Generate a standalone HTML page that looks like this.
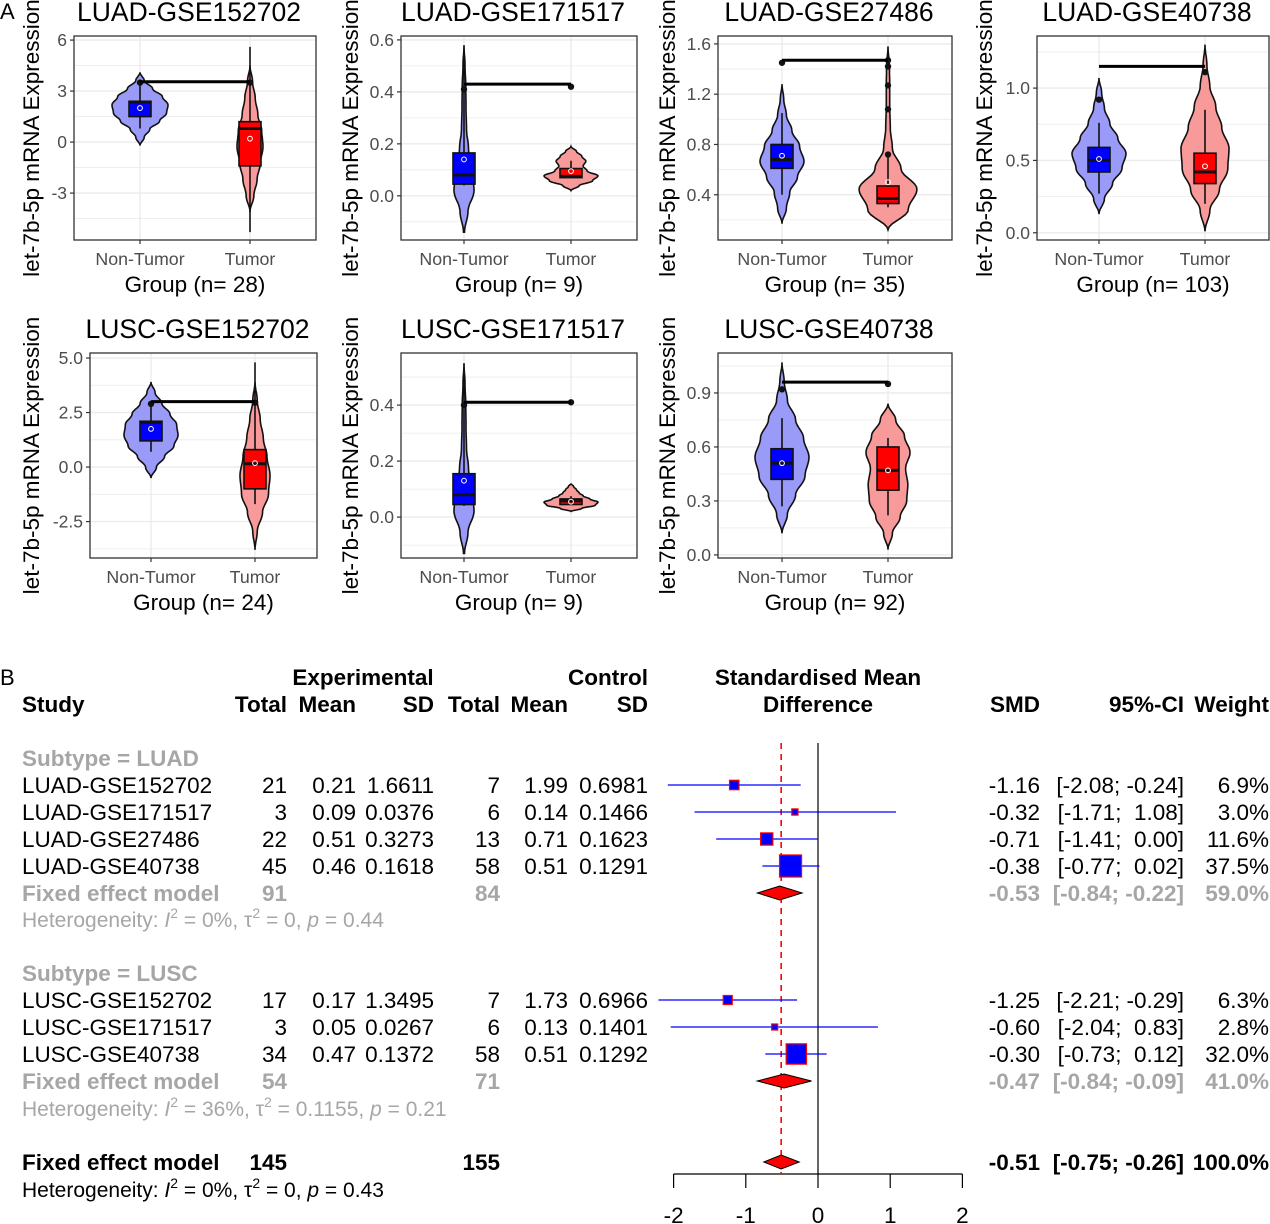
<!DOCTYPE html>
<html><head><meta charset="utf-8"><style>
html,body{margin:0;padding:0;background:#fff;}
svg{display:block;font-family:"Liberation Sans",Arial,sans-serif;}
</style></head><body>
<svg id="root" width="1270" height="1224" viewBox="0 0 1270 1224" xmlns="http://www.w3.org/2000/svg">
<g id="panelA"></g>
<g id="panelB"></g>
</svg>
<script>
// ---------- Panel A data ----------
const panelTitles = ["LUAD-GSE152702","LUAD-GSE171517","LUAD-GSE27486","LUAD-GSE40738","LUSC-GSE152702","LUSC-GSE171517","LUSC-GSE40738"];
const panelN = [28, 9, 35, 103, 24, 9, 92];
const panelTicks = [[-3,0,3,6],[0.0,0.2,0.4,0.6],[0.4,0.8,1.2,1.6],[0.0,0.5,1.0],[-2.5,0.0,2.5,5.0],[0.0,0.2,0.4],[0.0,0.3,0.6,0.9]];
const panelTickLabels = [["-3","0","3","6"],["0.0","0.2","0.4","0.6"],["0.4","0.8","1.2","1.6"],["0.0","0.5","1.0"],["-2.5","0.0","2.5","5.0"],["0.0","0.2","0.4"],["0.0","0.3","0.6","0.9"]];
const panelYDomain = [[-5.76,6.24],[-0.17,0.615],[0.04,1.663],[-0.05,1.36],[-4.17,5.23],[-0.146,0.586],[-0.017,1.122]];
const bracketY = [3.55,0.43,1.47,1.15,3.0,0.41,0.96];
const violinRange = [
 [[-0.2,4.1],[-4.1,4.5]],
 [[-0.14,0.58],[0.02,0.19]],
 [[0.17,1.28],[0.12,1.58]],
 [[0.13,1.07],[0.01,1.3]],
 [[-0.5,3.9],[-3.8,3.9]],
 [[-0.13,0.55],[0.02,0.12]],
 [[0.12,1.07],[0.03,0.84]]];
const violinDensity = [
 [[0,0.15,0.35,0.7,0.95,1,0.8,0.45,0.15,0],[0,0.3,0.55,0.8,1,0.9,0.6,0.4,0.2,0]],
 [[0.05,0.4,1,0.8,0.45,0.25,0.2,0.18,0.1,0],[0,0.3,0.8,1,0.6,0.45,0.55,0.4,0.2,0]],
 [[0,0.2,0.35,0.7,1,0.8,0.45,0.2,0.08,0],[0,0.7,1,0.45,0.15,0.08,0.06,0.06,0.05,0]],
 [[0,0.2,0.5,0.85,1,0.7,0.4,0.2,0.1,0],[0,0.2,0.6,0.95,1,0.7,0.45,0.2,0.08,0]],
 [[0,0.2,0.5,0.85,1,0.95,0.7,0.4,0.15,0],[0,0.15,0.5,0.9,1,0.8,0.55,0.35,0.15,0]],
 [[0.05,0.4,1,0.8,0.45,0.25,0.2,0.18,0.1,0],[0,0.4,0.9,1,0.7,0.45,0.3,0.2,0.1,0]],
 [[0,0.2,0.5,0.85,1,0.8,0.5,0.2,0.08,0],[0,0.2,0.55,0.85,0.9,0.8,1,0.75,0.35,0]]];
const violinHalfWidth = [[28,13],[10,27],[22,29],[27,24],[27,15],[10,27],[27,22]];
const boxStats = [
 [[0.8,1.5,2.35,2.4,3.5],[-5.3,-1.4,0.8,1.2,5.6]],
 [[0.04,0.045,0.08,0.165,0.55],[0.07,0.07,0.075,0.105,0.135]],
 [[0.4,0.61,0.68,0.8,1.05],[0.3,0.33,0.37,0.47,0.7]],
 [[0.27,0.42,0.5,0.59,0.76],[0.2,0.34,0.42,0.55,0.85]],
 [[0.7,1.2,2.05,2.1,2.9],[-1.7,-1.0,0.15,0.8,4.8]],
 [[0.04,0.045,0.08,0.155,0.5],[0.045,0.045,0.058,0.065,0.075]],
 [[0.27,0.42,0.51,0.59,0.76],[0.22,0.36,0.47,0.6,0.65]]];
const groupMean = [[2.0,0.2],[0.14,0.095],[0.71,0.5],[0.51,0.46],[1.75,0.18],[0.13,0.055],[0.51,0.47]];
const outliers = [[[3.5],[3.5]],[[0.41],[0.42]],[[1.45],[0.72,1.08,1.27,1.42,1.47]],[[0.92],[1.11]],[[2.9],[2.95]],[[0.4],[0.41]],[[0.92],[0.95]]];
const categories = ["Non-Tumor","Tumor"];

// ---------- Panel B data ----------
const studies = ["LUAD-GSE152702","LUAD-GSE171517","LUAD-GSE27486","LUAD-GSE40738","LUSC-GSE152702","LUSC-GSE171517","LUSC-GSE40738"];
const expTotal = [21,3,22,45,17,3,34];
const expMean = ["0.21","0.09","0.51","0.46","0.17","0.05","0.47"];
const expSD = ["1.6611","0.0376","0.3273","0.1618","1.3495","0.0267","0.1372"];
const ctlTotal = [7,6,13,58,7,6,58];
const ctlMean = ["1.99","0.14","0.71","0.51","1.73","0.13","0.51"];
const ctlSD = ["0.6981","0.1466","0.1623","0.1291","0.6966","0.1401","0.1292"];
const smd = [-1.16,-0.32,-0.71,-0.38,-1.25,-0.60,-0.30];
const ciLow = [-2.08,-1.71,-1.41,-0.77,-2.21,-2.04,-0.73];
const ciHigh = [-0.24,1.08,0.00,0.02,-0.29,0.83,0.12];
const weight = [6.9,3.0,11.6,37.5,6.3,2.8,32.0];
const pooledLabels = ["LUAD","LUSC","overall"];
const pooledSMD = [-0.53,-0.47,-0.51];
const pooledLow = [-0.84,-0.84,-0.75];
const pooledHigh = [-0.22,-0.09,-0.26];
const pooledWeight = ["59.0%","41.0%","100.0%"];
const pooledExpTotal = [91,54,145];
const pooledCtlTotal = [84,71,155];
const forestTicks = [-2,-1,0,1,2];

const NS="http://www.w3.org/2000/svg";
function mk(tag, attrs, parent, txt){
  const e=document.createElementNS(NS,tag);
  for(const k in attrs) e.setAttribute(k,attrs[k]);
  if(txt!==undefined) e.textContent=txt;
  parent.appendChild(e); return e;
}
const A=document.getElementById('panelA');
const plotBoxes=[[74,36,316,240],[401,36,637,240],[718,36,952,240],[1037,36,1269,240],[90,353,317,558],[401,353,637,558],[718,353,952,558]];
const groupX=[[140,250],[464,571],[782,888],[1099,1205],[151,255],[464,571],[782,888]];

for(let p=0;p<7;p++){
  const [x0,y0,x1,y1]=plotBoxes[p];
  const [dlo,dhi]=panelYDomain[p];
  const yS=v=>y1-(v-dlo)/(dhi-dlo)*(y1-y0);
  const g=mk('g',{},A);
  
  
  const defs=mk('defs',{},g);
  const cp=mk('clipPath',{id:'clip'+p},defs);
  mk('rect',{x:x0,y:y0,width:x1-x0,height:y1-y0},cp);
  mk('rect',{x:x0,y:y0,width:x1-x0,height:y1-y0,fill:'#fff'},g);
  const t=panelTicks[p];
  const step=t[1]-t[0];
  for(let v=t[0]-step*3; v<=dhi+step; v+=step/2){
    if(v<dlo||v>dhi) continue;
    const major=Math.abs(((v-t[0])/step)-Math.round((v-t[0])/step))<1e-6;
    const gl=mk('line',{x1:x0,x2:x1,y1:yS(v),y2:yS(v),stroke:'#ebebeb','stroke-width':major?1.4:0.8},g);
    
    
  }
  groupX[p].forEach(gx=>mk('line',{x1:gx,x2:gx,y1:y0,y2:y1,stroke:'#ebebeb','stroke-width':1.4},g));
  const inner=mk('g',{'clip-path':'url(#clip'+p+')'},g);
  for(let k=0;k<2;k++){
    const gx=groupX[p][k];
    const [vmin,vmax]=violinRange[p][k];
    const dens=violinDensity[p][k];
    const hw=violinHalfWidth[p][k];
    const pts=[];
    const N=60;
    for(let i=0;i<=N;i++){
      const f=i/N*(dens.length-1);
      const a=Math.floor(f), b=Math.min(a+1,dens.length-1), tt=f-a;
      const m=(1-Math.cos(tt*Math.PI))/2;
      const d=dens[a]*(1-m)+dens[b]*m;
      const v=vmin+(vmax-vmin)*i/N;
      pts.push([d*hw,yS(v)]);
    }
    let dstr='M'+pts.map(q=>(gx+q[0]).toFixed(1)+','+q[1].toFixed(1)).join('L');
    dstr+='L'+pts.slice().reverse().map(q=>(gx-q[0]).toFixed(1)+','+q[1].toFixed(1)).join('L')+'Z';
    const vi=mk('path',{d:dstr,fill:k?'#f99a9a':'#9a9af9',stroke:'#111','stroke-width':1.6},inner);
    
    
    const [wl,q1,md,q3,wh]=boxStats[p][k];
    const wk=mk('line',{x1:gx,x2:gx,y1:yS(wl),y2:yS(wh),stroke:'#111','stroke-width':1.6},inner);
    
    
    const bx=mk('rect',{x:gx-11,y:yS(q3),width:22,height:Math.max(1,yS(q1)-yS(q3)),fill:k?'#ff0000':'#0000ff',stroke:'#111','stroke-width':1.6},inner);
    
    
    mk('line',{x1:gx-11,x2:gx+11,y1:yS(md),y2:yS(md),stroke:'#111','stroke-width':3},inner);
    outliers[p][k].forEach(o=>{
      const c=mk('circle',{cx:gx,cy:yS(o),r:3.2,fill:'#111'},inner);
      
      
    });
    const mc=mk('circle',{cx:gx,cy:yS(groupMean[p][k]),r:2.4,fill:'none',stroke:'#fff','stroke-width':1},inner);
    
    
  }
  const br=mk('line',{x1:groupX[p][0],x2:groupX[p][1],y1:yS(bracketY[p]),y2:yS(bracketY[p]),stroke:'#000','stroke-width':3},inner);
  
  
  mk('rect',{x:x0,y:y0,width:x1-x0,height:y1-y0,fill:'none',stroke:'#333','stroke-width':1.3},g);
  t.forEach((v,i)=>{
    mk('line',{x1:x0-4,x2:x0,y1:yS(v),y2:yS(v),stroke:'#333','stroke-width':1.2},g);
    const tl=mk('text',{x:x0-7,y:yS(v)+6,'text-anchor':'end','font-size':17.5,fill:'#4d4d4d'},g,panelTickLabels[p][i]);
    
    
  });
  for(let k=0;k<2;k++){
    const gx=groupX[p][k];
    mk('line',{x1:gx,x2:gx,y1:y1,y2:y1+4,stroke:'#333','stroke-width':1.2},g);
    const cl=mk('text',{x:gx,y:y1+25,'text-anchor':'middle','font-size':17.8,fill:'#4d4d4d'},g,categories[k]);
    
    
  }
  const cx=(x0+x1)/2;
  const ti=mk('text',{x:cx-6,y:y0-15,'text-anchor':'middle','font-size':26.5,fill:'#000'},g,panelTitles[p]);
  
  
  const xt=mk('text',{x:cx,y:y1+52,'text-anchor':'middle','font-size':22.5,fill:'#000'},g,'Group (n= '+panelN[p]+')');
  
  
  const yTitleX=[39,358,675,992,39,358,675][p];
  const ycx=(y0+y1)/2;
  const yt=mk('text',{x:yTitleX,y:ycx,'text-anchor':'middle','font-size':22.5,fill:'#000',transform:'rotate(-90 '+yTitleX+' '+ycx+')'},g,'let-7b-5p mRNA Expression');
  
  
}
const la=mk('text',{x:0,y:19,'font-size':22,fill:'#000'},A,'A');



// ---------- Panel B ----------
const B=document.getElementById('panelB');
const xF=v=>818+72.2*v;
const FS=22.5;
function tx(x,y,s,opt){
  opt=opt||{};
  const e=mk('text',{x:x,y:y+8,'font-size':opt.fs||FS,fill:opt.fill||'#000','text-anchor':opt.anchor||'start','font-weight':opt.bold?'bold':'normal','xml:space':'preserve'},B,s);
  e.style.whiteSpace='pre';
  return e;
}
let e;
e=tx(0,677,'B',{fs:22});  
e=tx(363,677,'Experimental',{bold:1,anchor:'middle'});  
e=tx(648,677,'Control',{bold:1,anchor:'end'});  
e=tx(818,677,'Standardised Mean',{bold:1,anchor:'middle'});  
e=tx(818,704,'Difference',{bold:1,anchor:'middle'});  
const hdr=[['Study',22,'start'],['Total',287,'end'],['Mean',356,'end'],['SD',434,'end'],['Total',500,'end'],['Mean',568,'end'],['SD',648,'end'],['SMD',1040,'end'],['95%-CI',1184,'end'],['Weight',1269,'end']];
hdr.forEach(h=>{e=tx(h[1],704,h[0],{bold:1,anchor:h[2]});  });
const fmt=v=>(v<0?'-':'')+Math.abs(v).toFixed(2);
const ciStr=(l,h)=>'['+fmt(l)+';'+(h<0?' ':'  ')+fmt(h)+']';
const rowY=[785,812,839,866,1000,1027,1054];
const gray='#a6a6a6';
e=tx(22,758,'Subtype = LUAD',{bold:1,fill:gray});  
e=tx(22,973,'Subtype = LUSC',{bold:1,fill:gray});  
const ax=mk('line',{x1:xF(-2),x2:xF(2),y1:1174,y2:1174,stroke:'#000','stroke-width':1.2},B);
 
forestTicks.forEach(v=>{
  mk('line',{x1:xF(v),x2:xF(v),y1:1174,y2:1188,stroke:'#000','stroke-width':1.2},B);
  e=mk('text',{x:xF(v),y:1223,'font-size':FS,'text-anchor':'middle'},B,String(v));
   
});
e=mk('line',{x1:xF(0),x2:xF(0),y1:743,y2:1174,stroke:'#000','stroke-width':1.2},B);
 
e=mk('line',{x1:xF(pooledSMD[2]),x2:xF(pooledSMD[2]),y1:743,y2:1174,stroke:'#ff0000','stroke-width':1.6,'stroke-dasharray':'6,5'},B);
 
for(let i=0;i<studies.length;i++){
  const y=rowY[i];
  e=tx(22,y,studies[i]);  
  tx(287,y,String(expTotal[i]),{anchor:'end'});
  tx(356,y,expMean[i],{anchor:'end'});
  tx(434,y,expSD[i],{anchor:'end'});
  tx(500,y,String(ctlTotal[i]),{anchor:'end'});
  tx(568,y,ctlMean[i],{anchor:'end'});
  tx(648,y,ctlSD[i],{anchor:'end'});
  tx(1040,y,fmt(smd[i]),{anchor:'end'});
  tx(1184,y,ciStr(ciLow[i],ciHigh[i]),{anchor:'end'});
  tx(1269,y,weight[i].toFixed(1)+'%',{anchor:'end'});
  e=mk('line',{x1:xF(ciLow[i]),x2:xF(ciHigh[i]),y1:y,y2:y,stroke:'#0000ff','stroke-width':1.3},B);
   
  const s=3.6*Math.sqrt(weight[i]);
  e=mk('rect',{x:xF(smd[i])-s/2,y:y-s/2,width:s,height:s,fill:'#0000ff',stroke:'#ff0000','stroke-width':1.2},B);
   
}
const poolY=[893,1081,1162];
const hetY=[920,1109,1190];
const hetText=[['0%','0','0.44'],['36%','0.1155','0.21'],['0%','0','0.43']];
for(let j=0;j<3;j++){
  const y=poolY[j];
  const overall=j===2;
  const col=overall?'#000':gray;
  e=tx(22,y,'Fixed effect model',{bold:1,fill:col});  
  tx(287,y,String(pooledExpTotal[j]),{bold:1,fill:col,anchor:'end'});
  tx(500,y,String(pooledCtlTotal[j]),{bold:1,fill:col,anchor:'end'});
  tx(1040,y,fmt(pooledSMD[j]),{bold:1,fill:col,anchor:'end'});
  tx(1184,y,ciStr(pooledLow[j],pooledHigh[j]),{bold:1,fill:col,anchor:'end'});
  tx(1269,y,pooledWeight[j],{bold:1,fill:col,anchor:'end'});
  const h=7;
  e=mk('polygon',{points:[[xF(pooledLow[j]),y],[xF(pooledSMD[j]),y-h],[xF(pooledHigh[j]),y],[xF(pooledSMD[j]),y+h]].map(q=>q.join(',')).join(' '),fill:'#ff0000',stroke:'#000','stroke-width':1},B);
   
  const hc=overall?'#000':gray;
  const t=mk('text',{x:22,y:hetY[j]+7,'font-size':21,fill:hc},B);
   
  const parts=[['Heterogeneity: ',''],['I',"italic"],['2','sup'],[' = '+hetText[j][0]+', \u03c4',''],['2','sup'],[' = '+hetText[j][1]+', ',''],['p','italic'],[' = '+hetText[j][2],'']];
  let lastSup=false;
  parts.forEach(pt=>{
    const ts=mk('tspan',{},t,pt[0]);
    if(pt[1]==='italic') ts.setAttribute('font-style','italic');
    if(pt[1]==='sup'){ts.setAttribute('font-size',14);ts.setAttribute('dy',-9);}
    else if(lastSup){ts.setAttribute('dy',9);}
    lastSup=(pt[1]==='sup');
  });
}
</script>
</body></html>
